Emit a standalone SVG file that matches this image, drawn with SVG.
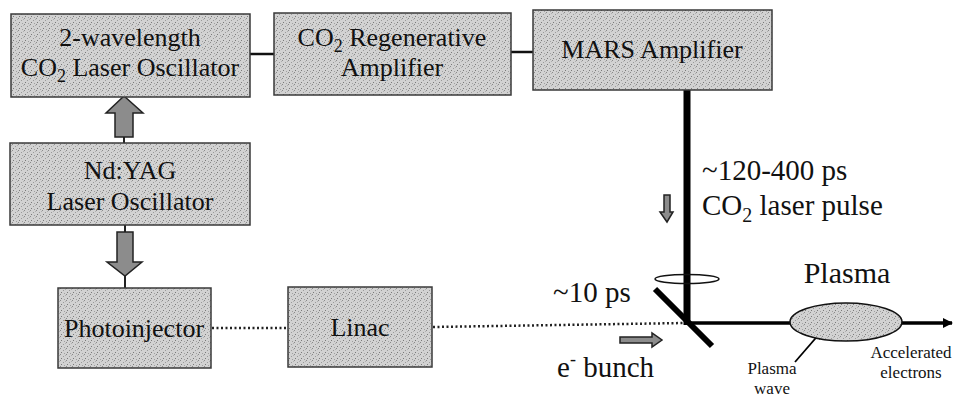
<svg xmlns="http://www.w3.org/2000/svg" width="953" height="398" viewBox="0 0 953 398">
<defs>
<pattern id="spk" width="6" height="6" patternUnits="userSpaceOnUse">
<rect width="6" height="6" fill="#d2d2d2"/>
<rect x="0" y="0" width="1" height="1" fill="#8a8a8a"/>
<rect x="3" y="2" width="1" height="1" fill="#9a9a9a"/>
<rect x="1" y="4" width="1" height="1" fill="#7a7a7a"/>
<rect x="4" y="5" width="1" height="1" fill="#a0a0a0"/>
<rect x="5" y="1" width="1" height="1" fill="#b0b0b0"/>
</pattern>
<marker id="ah" markerWidth="10" markerHeight="10" refX="9" refY="5" orient="auto" markerUnits="userSpaceOnUse">
<path d="M0,0 L10,5 L0,10 Z" fill="#000"/>
</marker>
<marker id="ahs" markerWidth="8" markerHeight="8" refX="7" refY="4" orient="auto" markerUnits="userSpaceOnUse">
<path d="M0,0 L8,4 L0,8 Z" fill="#000"/>
</marker>
</defs>
<style>
.box{fill:url(#spk);stroke:#3a3a3a;stroke-width:1.5}
.t{font-family:"Liberation Serif",serif;fill:#111;text-anchor:middle}
.b{font-size:26px}
.tl{font-family:"Liberation Serif",serif;fill:#111}
.garrow{fill:#8c8c8c;stroke:#222;stroke-width:1.5}
</style>

<g id="connectors">
<line x1="250" y1="54" x2="274" y2="54" stroke="#111" stroke-width="2.5"/>
<line x1="511" y1="52" x2="533" y2="52" stroke="#111" stroke-width="2.5"/>
<line x1="687" y1="90" x2="687" y2="325" stroke="#000" stroke-width="7"/>
<line x1="124" y1="97" x2="124" y2="143" stroke="#222" stroke-width="2"/>
<path class="garrow" d="M124,96 L143,113 L133,113 L133,137 L115,137 L115,113 L106,113 Z"/>
<line x1="125" y1="225" x2="125" y2="288" stroke="#222" stroke-width="2"/>
<path class="garrow" d="M117,232 L133,232 L133,262 L142,262 L125,276 L107,262 L117,262 Z"/>
<line x1="212" y1="328" x2="287" y2="328" stroke="#222" stroke-width="2.5" stroke-dasharray="2,2.5"/>
<line x1="433" y1="327" x2="684" y2="323" stroke="#222" stroke-width="2.5" stroke-dasharray="2,2.5"/>
<line x1="655" y1="289" x2="712" y2="346" stroke="#000" stroke-width="6"/>
<line x1="688" y1="323" x2="952" y2="323" stroke="#000" stroke-width="3.5" marker-end="url(#ah)"/>
<ellipse cx="687" cy="279" rx="32" ry="4.5" fill="none" stroke="#111" stroke-width="1.5"/>
<path class="garrow" d="M664,195 L670,195 L670,212 L673,212 L667,222 L660,212 L664,212 Z"/>
<path class="garrow" d="M620,337 L652,337 L652,333 L662,340 L652,347 L652,343 L620,343 Z"/>
<line x1="795" y1="362" x2="821" y2="332" stroke="#000" stroke-width="1.8" marker-end="url(#ahs)"/>
</g>

<g id="osc2">
<rect class="box" x="11" y="14" width="239" height="83"/>
<text class="t b" x="130" y="46">2-wavelength</text>
<text class="t b" x="130" y="76">CO<tspan font-size="18" dy="6">2</tspan><tspan dy="-6"> Laser Oscillator</tspan></text>
</g>
<g id="regen">
<rect class="box" x="274" y="13" width="237" height="82"/>
<text class="t b" x="392" y="46">CO<tspan font-size="18" dy="6">2</tspan><tspan dy="-6"> Regenerative</tspan></text>
<text class="t b" x="392" y="76">Amplifier</text>
</g>
<g id="mars">
<rect class="box" x="533" y="10" width="239" height="80"/>
<text class="t b" x="652" y="58">MARS Amplifier</text>
</g>
<g id="ndyag">
<rect class="box" x="10" y="143" width="240" height="82"/>
<text class="t b" x="130" y="179">Nd:YAG</text>
<text class="t b" x="130" y="210">Laser Oscillator</text>
</g>
<g id="photoinjector">
<rect class="box" x="58" y="288" width="153" height="80"/>
<text class="t b" x="134" y="337">Photoinjector</text>
</g>
<g id="linac">
<rect class="box" x="288" y="287" width="144" height="80"/>
<text class="t b" x="360" y="336">Linac</text>
</g>
<g id="plasma">
<ellipse cx="846" cy="322" rx="56" ry="19" fill="url(#spk)" stroke="#111" stroke-width="1.5"/>
<text class="t" x="847" y="283" font-size="30">Plasma</text>
</g>
<g id="labels">
<text class="tl" x="702" y="180" font-size="29">~120-400 ps</text>
<text class="tl" x="702" y="215" font-size="29">CO<tspan font-size="20" dy="7">2</tspan><tspan dy="-7"> laser pulse</tspan></text>
<text class="tl" x="553" y="302" font-size="29">~10 ps</text>
<text class="tl" x="557" y="377" font-size="29">e<tspan font-size="18" dy="-12">-</tspan><tspan dy="12"> bunch</tspan></text>
<text class="t" x="772" y="374" font-size="17">Plasma</text>
<text class="t" x="772" y="394" font-size="17">wave</text>
<text class="t" x="911" y="358" font-size="17">Accelerated</text>
<text class="t" x="911" y="378" font-size="17">electrons</text>
</g>
</svg>
